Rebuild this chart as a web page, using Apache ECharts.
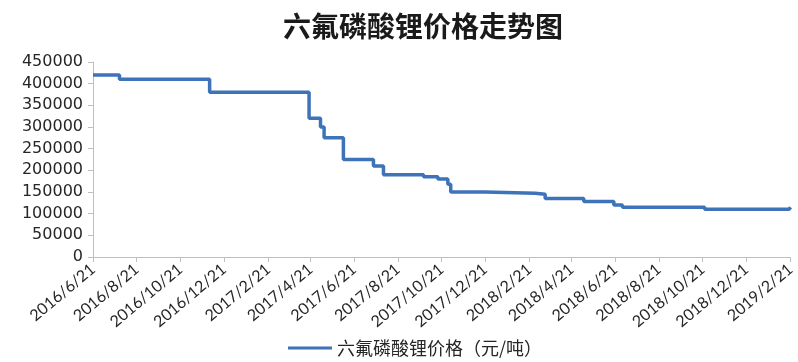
<!DOCTYPE html>
<html>
<head>
<meta charset="utf-8">
<style>
  html, body { margin: 0; padding: 0; background: #ffffff; }
  #chart { width: 798px; height: 362px; }
</style>
<script src="https://cdn.jsdelivr.net/npm/echarts@6/dist/echarts.min.js"></script>
</head>
<body>
<div id="chart"></div>
<script>
// Price change points (date of change, new price in 元/吨)
const changeDates = [
  '2016-06-21', '2016-07-28', '2016-12-01', '2017-04-19', '2017-05-05',
  '2017-05-10', '2017-06-06', '2017-07-18', '2017-08-01', '2017-09-26',
  '2017-10-16', '2017-10-30', '2017-11-03', '2017-12-21', '2018-03-01',
  '2018-03-15', '2018-05-08', '2018-06-19', '2018-07-01', '2018-10-24',
  '2019-02-19', '2019-02-21'
];
const prices = [
  420000, 410000, 380000, 320000, 300000,
  275000, 225000, 210000, 190000, 185000,
  180000, 168000, 150000, 147000, 145000,
  135000, 128000, 120000, 115000, 110000,
  110000, 115000
];
// Tick dates along the date axis (every two months)
const tickDates = [
  '2016-06-21', '2016-08-21', '2016-10-21', '2016-12-21', '2017-02-21',
  '2017-04-21', '2017-06-21', '2017-08-21', '2017-10-21', '2017-12-21',
  '2018-02-21', '2018-04-21', '2018-06-21', '2018-08-21', '2018-10-21',
  '2018-12-21', '2019-02-21'
];
const seriesName = '六氟磷酸锂价格（元/吨）';
const titleText = '六氟磷酸锂价格走势图';

// Dates are placed on a linear day-count axis starting at the first tick date
const DAY = 86400000;
function utc(s) {
  const p = s.split('-').map(Number);
  return Date.UTC(p[0], p[1] - 1, p[2]);
}
const origin = utc(tickDates[0]);
function toDay(s) { return Math.round((utc(s) - origin) / DAY); }
function dayLabel(v) {
  const d = new Date(origin + Math.round(v) * DAY);
  return d.getUTCFullYear() + '/' + (d.getUTCMonth() + 1) + '/' + d.getUTCDate();
}

const seriesData = changeDates.map((d, i) => [toDay(d), prices[i]]);
const tickValues = tickDates.map(toDay);

const chart = echarts.init(document.getElementById('chart'), null, { renderer: 'canvas' });
chart.setOption({
  animation: false,
  backgroundColor: '#ffffff',
  title: {
    text: titleText,
    left: 278,
    top: 7,
    textStyle: {
      fontFamily: 'Noto Sans CJK SC',
      fontSize: 28,
      fontWeight: 'bold',
      color: '#1a1a1a'
    }
  },
  legend: {
    bottom: 0,
    left: 283,
    icon: 'rect',
    itemWidth: 44,
    itemHeight: 3,
    itemGap: 6,
    textStyle: {
      fontFamily: 'Noto Sans CJK SC',
      fontSize: 18,
      color: '#262626'
    },
    data: [seriesName]
  },
  grid: {
    left: 93,
    right: 3,
    top: 62,
    bottom: 105,
    containLabel: false
  },
  xAxis: {
    type: 'value',
    min: tickValues[0],
    max: tickValues[tickValues.length - 1],
    splitLine: { show: false },
    axisLine: { show: true, lineStyle: { color: '#BFBFBF', width: 1 } },
    axisTick: {
      show: true,
      customValues: tickValues,
      length: 5,
      lineStyle: { color: '#BFBFBF' }
    },
    axisLabel: {
      customValues: tickValues,
      rotate: 40,
      margin: 10,
      fontFamily: 'Lato',
      fontSize: 16,
      color: '#262626',
      formatter: (v) => dayLabel(v)
    }
  },
  yAxis: {
    type: 'value',
    min: 0,
    max: 450000,
    interval: 50000,
    splitLine: { show: false },
    axisLine: { show: true, lineStyle: { color: '#BFBFBF', width: 1 } },
    axisTick: { show: true, length: 5, lineStyle: { color: '#BFBFBF' } },
    axisLabel: {
      margin: 10,
      fontFamily: 'DejaVu Sans',
      fontSize: 16,
      color: '#262626',
      formatter: (v) => String(v)
    }
  },
  series: [{
    name: seriesName,
    type: 'line',
    step: 'end',
    symbol: 'none',
    showSymbol: false,
    data: seriesData,
    lineStyle: { color: '#3E73BA', width: 3.5 },
    itemStyle: { color: '#3E73BA' }
  }]
});
</script>
</body>
</html>
